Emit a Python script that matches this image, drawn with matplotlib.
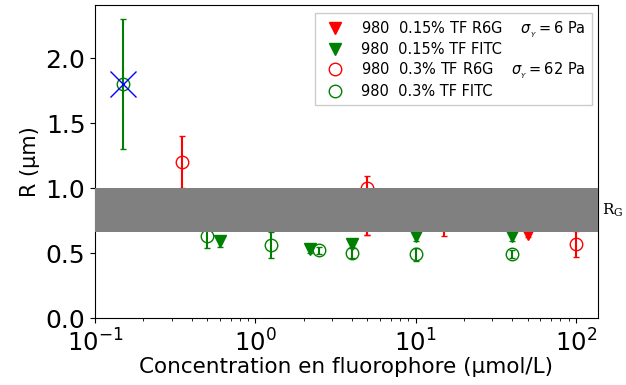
#!/usr/bin/env python
import matplotlib
matplotlib.use("Agg")
import matplotlib.pyplot as plt
import numpy as np

# 0.15% TF R6G (filled red triangles)
c_r15 = [5.0, 15.0, 50.0]
R_r15 = [0.80, 0.80, 0.65]
e_r15 = [0.16, 0.17, 0.03]

# 0.15% TF FITC (filled green triangles)
c_g15 = [0.6, 2.2, 4.0, 10.0, 40.0]
R_g15 = [0.59, 0.53, 0.57, 0.63, 0.63]
e_g15 = [0.04, 0.03, 0.03, 0.04, 0.04]

# 0.3% TF R6G (open red circles)
c_r3 = [0.35, 5.0, 100.0]
R_r3 = [1.20, 1.00, 0.57]
e_r3_lo = [0.20, 0.36, 0.10]
e_r3_hi = [0.20, 0.09, 0.10]

# 0.3% TF FITC (open green circles)
c_g3 = [0.15, 0.5, 1.25, 2.5, 4.0, 10.0, 40.0]
R_g3 = [1.80, 0.63, 0.56, 0.52, 0.50, 0.49, 0.49]
e_g3 = [0.50, 0.09, 0.10, 0.03, 0.04, 0.05, 0.03]

# outlier cross
c_x, R_x = [0.15], [1.80]

# R_G band
RG_lo, RG_hi = 0.66, 1.0

plt.rcParams['font.family'] = 'DejaVu Sans'
plt.rcParams['mathtext.fontset'] = 'dejavusans'

fig = plt.figure(figsize=(6.26, 3.85), dpi=100)
ax = fig.add_axes([0.152, 0.174, 0.803, 0.813])

ms = 9
cs = 2.5
ax.errorbar(c_r15, R_r15, yerr=e_r15, fmt='none', ecolor='red', capsize=cs, elinewidth=1.5, zorder=2)
ax.errorbar(c_g15, R_g15, yerr=e_g15, fmt='none', ecolor='green', capsize=cs, elinewidth=1.5, zorder=2)
ax.errorbar(c_r3, R_r3, yerr=[e_r3_lo, e_r3_hi], fmt='none', ecolor='red', capsize=cs, elinewidth=1.5, zorder=2)
ax.errorbar(c_g3, R_g3, yerr=e_g3, fmt='none', ecolor='green', capsize=cs, elinewidth=1.5, zorder=2)

ax.plot(c_r15, R_r15, 'v', color='red', ms=ms, ls='none',
        label=r'980  0.15% TF R6G    $\sigma_{_Y}=6$ Pa', zorder=2.5)
ax.plot(c_g15, R_g15, 'v', color='green', ms=ms, ls='none',
        label='980  0.15% TF FITC', zorder=2.5)
ax.plot(c_r3, R_r3, 'o', color='red', mfc='none', ms=ms, ls='none',
        label=r'980  0.3% TF R6G    $\sigma_{_Y}=62$ Pa', zorder=2.5)
ax.plot(c_g3, R_g3, 'o', color='green', mfc='none', ms=ms, ls='none',
        label='980  0.3% TF FITC', zorder=2.5)
ax.plot(c_x, R_x, 'x', color='blue', ms=19, mew=1.0, zorder=3)

ax.axhspan(RG_lo, RG_hi, color='gray', zorder=4, lw=0)
ax.text(1.008, (RG_lo + RG_hi) / 2 / 2.41, r'R$_{\mathregular{G}}$', transform=ax.transAxes,
        fontsize=11, family='DejaVu Serif', va='center', ha='left')

ax.set_xscale('log')
ax.set_xlim(0.1, 137)
ax.set_ylim(0, 2.41)
ax.set_yticks([0, 0.5, 1.0, 1.5, 2.0])
ax.tick_params(axis='y', labelsize=18)
ax.tick_params(axis='x', labelsize=17.5, pad=5)
ax.set_xlabel('Concentration en fluorophore (µmol/L)', fontsize=15.5, labelpad=0)
ax.set_ylabel('R (µm)', fontsize=15)

ax.legend(loc='upper right', fontsize=10.5, handletextpad=0.8, borderpad=0.4,
          labelspacing=0.2, fancybox=False, framealpha=1.0, edgecolor='#cccccc',
          borderaxespad=0, bbox_to_anchor=(0.988, 0.974))

fig.savefig('out.png', dpi=100)
